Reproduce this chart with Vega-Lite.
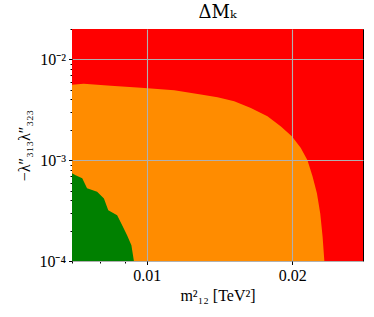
{
  "$schema": "https://vega.github.io/schema/vega-lite/v6.json",
  "autosize": {"type": "none"},
  "padding": {"left": 72, "top": 29, "right": 11, "bottom": 56},
  "width": 291,
  "height": 232,
  "background": "white",
  "view": {"stroke": "black", "strokeWidth": 1},
  "title": {"text": "ΔMₖ", "font": "DejaVu Serif", "fontSize": 18, "fontWeight": "normal", "color": "black", "offset": 7, "anchor": "middle"},
  "layer": [
    {
      "data": {"values": [{"x": 0.007, "x2": 0.028, "y": 0.0001, "y2": 0.02}]},
      "mark": {"type": "rect", "color": "#ff0000", "clip": true},
      "encoding": {
        "x": {"field": "x", "type": "quantitative", "scale": {"type": "log", "domain": [0.007, 0.028], "nice": false},
          "axis": {"values": [0.01, 0.02], "labelExpr": "datum.value < 0.015 ? '0.01' : '0.02'", "grid": true, "gridColor": "#b0b0b0", "gridWidth": 1.1, "domain": false, "tickColor": "black", "tickSize": 3.5, "labelFont": "Liberation Serif", "labelFontSize": 16, "labelColor": "black", "labelPadding": 3, "title": "m²₁₂ [TeV²]", "titleFont": "Liberation Serif", "titleFontSize": 16, "titleFontWeight": "normal", "titleColor": "black", "titlePadding": 4, "zindex": 1}},
        "x2": {"field": "x2"},
        "y": {"field": "y", "type": "quantitative", "scale": {"type": "log", "domain": [0.0001, 0.02], "nice": false},
          "axis": {"values": [0.0001, 0.001, 0.01], "labelExpr": "datum.value < 0.0005 ? '10⁻⁴' : (datum.value < 0.005 ? '10⁻³' : '10⁻²')", "grid": true, "gridColor": "#b0b0b0", "gridWidth": 1.1, "domain": false, "tickColor": "black", "tickSize": 3.5, "labelFont": "Liberation Serif", "labelFontSize": 16, "labelColor": "black", "labelPadding": 3, "title": "−λ″₃₁₃λ″₃₂₃", "titleFont": "Liberation Serif", "titleFontSize": 16, "titleFontWeight": "normal", "titleColor": "black", "titlePadding": 6, "zindex": 1}},
        "y2": {"field": "y2"}
      }
    },
    {
      "data": {"values": [
        {"x": 0.007, "y": 0.0056},
        {"x": 0.0074, "y": 0.00573},
        {"x": 0.00842, "y": 0.00547},
        {"x": 0.00972, "y": 0.00522},
        {"x": 0.01139, "y": 0.00494},
        {"x": 0.01293, "y": 0.00448},
        {"x": 0.014, "y": 0.00421},
        {"x": 0.01516, "y": 0.00384},
        {"x": 0.01641, "y": 0.0033},
        {"x": 0.01776, "y": 0.00272},
        {"x": 0.01894, "y": 0.00216},
        {"x": 0.01997, "y": 0.00172},
        {"x": 0.02082, "y": 0.00132},
        {"x": 0.02149, "y": 0.001},
        {"x": 0.02202, "y": 0.00069},
        {"x": 0.02248, "y": 0.00047},
        {"x": 0.02284, "y": 0.000296},
        {"x": 0.0231, "y": 0.000173},
        {"x": 0.02329, "y": 0.0001}
      ]},
      "mark": {"type": "area", "color": "#ff8c00", "clip": true, "opacity": 1},
      "encoding": {
        "x": {"field": "x", "type": "quantitative", "axis": null},
        "y": {"field": "y", "type": "quantitative", "axis": null},
        "y2": {"datum": 0.0001}
      }
    },
    {
      "data": {"values": [
        {"x": 0.007, "y": 0.00074},
        {"x": 0.00712, "y": 0.00071},
        {"x": 0.00735, "y": 0.00066},
        {"x": 0.00752, "y": 0.000526},
        {"x": 0.00789, "y": 0.000487},
        {"x": 0.00815, "y": 0.000417},
        {"x": 0.00832, "y": 0.000319},
        {"x": 0.00868, "y": 0.000284},
        {"x": 0.00889, "y": 0.000226},
        {"x": 0.0091, "y": 0.00018},
        {"x": 0.00929, "y": 0.000143},
        {"x": 0.0094, "y": 0.0001}
      ]},
      "mark": {"type": "area", "color": "#008000", "clip": true, "opacity": 1},
      "encoding": {
        "x": {"field": "x", "type": "quantitative", "axis": null},
        "y": {"field": "y", "type": "quantitative", "axis": null},
        "y2": {"datum": 0.0001}
      }
    },
    {
      "data": {"values": [{"x": 0.007, "y": 0.0001}]},
      "mark": {"type": "point", "opacity": 0},
      "encoding": {
        "x": {"field": "x", "type": "quantitative",
          "axis": {"values": [0.007, 0.008, 0.009], "labels": false, "grid": false, "domain": false, "tickColor": "black", "tickSize": 2, "title": null, "orient": "bottom"}},
        "y": {"field": "y", "type": "quantitative",
          "axis": {"values": [0.0002, 0.0003, 0.0004, 0.0005, 0.0006, 0.0007, 0.0008, 0.0009, 0.002, 0.003, 0.004, 0.005, 0.006, 0.007, 0.008, 0.009, 0.02], "labels": false, "grid": false, "domain": false, "tickColor": "black", "tickSize": 2, "title": null, "orient": "left"}}
      }
    }
  ],
  "resolve": {"axis": {"x": "independent", "y": "independent"}}
}
